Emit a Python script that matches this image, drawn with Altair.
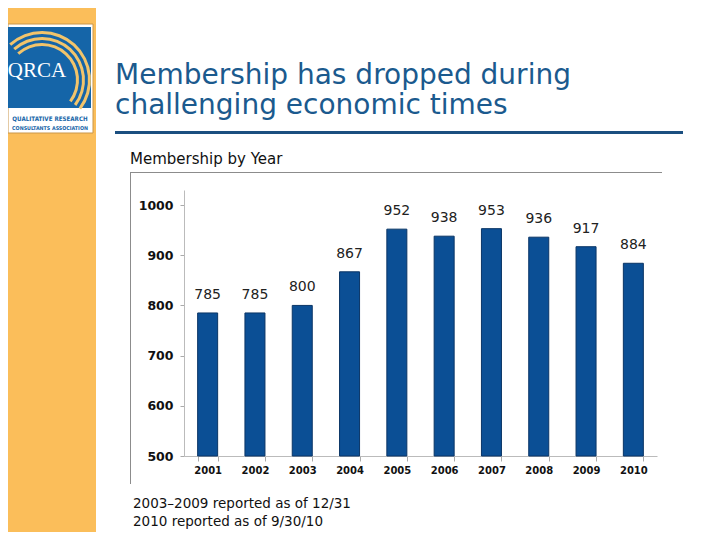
import altair as alt
import pandas as pd

years = ["2001", "2002", "2003", "2004", "2005", "2006", "2007", "2008", "2009", "2010"]
members = [785, 785, 800, 867, 952, 938, 953, 936, 917, 884]
y_ticks = [500, 600, 700, 800, 900, 1000]

title_lines = ["Membership has dropped during", "challenging economic times"]
subtitle = "Membership by Year"
notes = ["2003\u20132009 reported as of 12/31", "2010 reported as of 9/30/10"]
logo_name = "QRCA"
logo_lines = ["QUALITATIVE RESEARCH", "CONSULTANTS ASSOCIATION"]

df = pd.DataFrame({"year": years, "members": members})
one = pd.DataFrame({"a": [0]})

FONT = "DejaVu Sans"
ORANGE = "#FBBE5A"
LOGO_BLUE = "#1565A8"
TITLE_BLUE = "#1B5A8E"
BAR = "#0B4F95"
GOLD = "#F2C46B"

W, H = 473, 266

xs = alt.X("year:N", title=None,
           scale=alt.Scale(paddingInner=0.577, paddingOuter=0.2885),
           axis=alt.Axis(labelAngle=0, labelFont=FONT, labelFontWeight="bold",
                         labelFontSize=10, labelColor="#111", labelPadding=4,
                         domainColor="#BBBBBB", ticks=True, tickColor="#AAAAAA",
                         tickSize=5, tickWidth=1, tickBand="extent"))
ys = alt.Y("members:Q", title=None,
           scale=alt.Scale(domain=[500, 1030], nice=False, zero=False),
           axis=alt.Axis(values=y_ticks, format="d", labelFont=FONT,
                         labelFontWeight="bold",
                         labelFontSize=12.5, labelColor="#111", labelPadding=7,
                         domainColor="#BBBBBB", tickColor="#AAAAAA", tickSize=4,
                         grid=False))

bars = alt.Chart(df).mark_bar(color=BAR, stroke="#0A3566", strokeWidth=1).encode(
    x=xs, y=ys, y2=alt.datum(500))
vals = alt.Chart(df).mark_text(font=FONT, fontSize=14, color="#222",
                               baseline="bottom", dy=-11).encode(
    x=alt.X("year:N"), y=alt.Y("members:Q"), text="members:Q")


def rect(x, x2, y, y2, **kw):
    return alt.Chart(one).mark_rect(**kw).encode(
        x=alt.value(x), x2=alt.value(x2), y=alt.value(y), y2=alt.value(y2))


def txt(s, x, y, **kw):
    return alt.Chart(one).mark_text(text=s, **kw).encode(
        x=alt.value(x), y=alt.value(y))


deco = [
    rect(-176, -88, -182, 342, color=ORANGE),
    rect(-176, -91, -166, -57, fill="white", stroke="#C9964A", strokeWidth=1),
    rect(-176, -93, -163, -82, color=LOGO_BLUE),
]
for r in [34, 40, 46]:
    deco.append(alt.Chart(one).mark_arc(theta=5.55, theta2=8.5, innerRadius=r,
                                        outerRadius=r + 3, color=GOLD).encode(
        x=alt.value(-142), y=alt.value(-110)))
deco += [
    txt(logo_name, -147, -119, font="Liberation Serif", fontSize=21, color="white",
        align="center", baseline="middle"),
    txt(logo_lines[0], -134, -69, font="DejaVu Sans Condensed", fontSize=6.2,
        fontWeight="bold", color=LOGO_BLUE, align="center", baseline="alphabetic"),
    txt(logo_lines[1], -134, -60, font="DejaVu Sans Condensed", fontSize=5.3,
        fontWeight="bold", color=LOGO_BLUE, align="center", baseline="alphabetic"),
    txt(title_lines[0], -69, -106, font=FONT, fontSize=28, color=TITLE_BLUE,
        align="left", baseline="alphabetic"),
    txt(title_lines[1], -69, -76, font=FONT, fontSize=28, color=TITLE_BLUE,
        align="left", baseline="alphabetic"),
    rect(-69, 499, -59, -56, color="#1B4F80"),
    txt(subtitle, -54, -26, font=FONT, fontSize=15, color="#111",
        align="left", baseline="alphabetic"),
    rect(-54, 478, -18, -17, color="#8C8C8C"),
    rect(-54, -53, -18, 294, color="#8C8C8C"),
    txt(notes[0], -51, 318, font=FONT, fontSize=13.5, color="#111",
        align="left", baseline="alphabetic"),
    txt(notes[1], -51, 336, font=FONT, fontSize=13.5, color="#111",
        align="left", baseline="alphabetic"),
]

chart = alt.layer(*deco, bars, vals).properties(
    width=W, height=H,
    padding={"left": 176, "top": 182, "right": 55, "bottom": 76},
    autosize=alt.AutoSizeParams(type="none"),
    background="white",
).configure_view(strokeWidth=0, stroke="transparent")

chart.save("out.html", embed_options={"renderer": "svg", "actions": False})
